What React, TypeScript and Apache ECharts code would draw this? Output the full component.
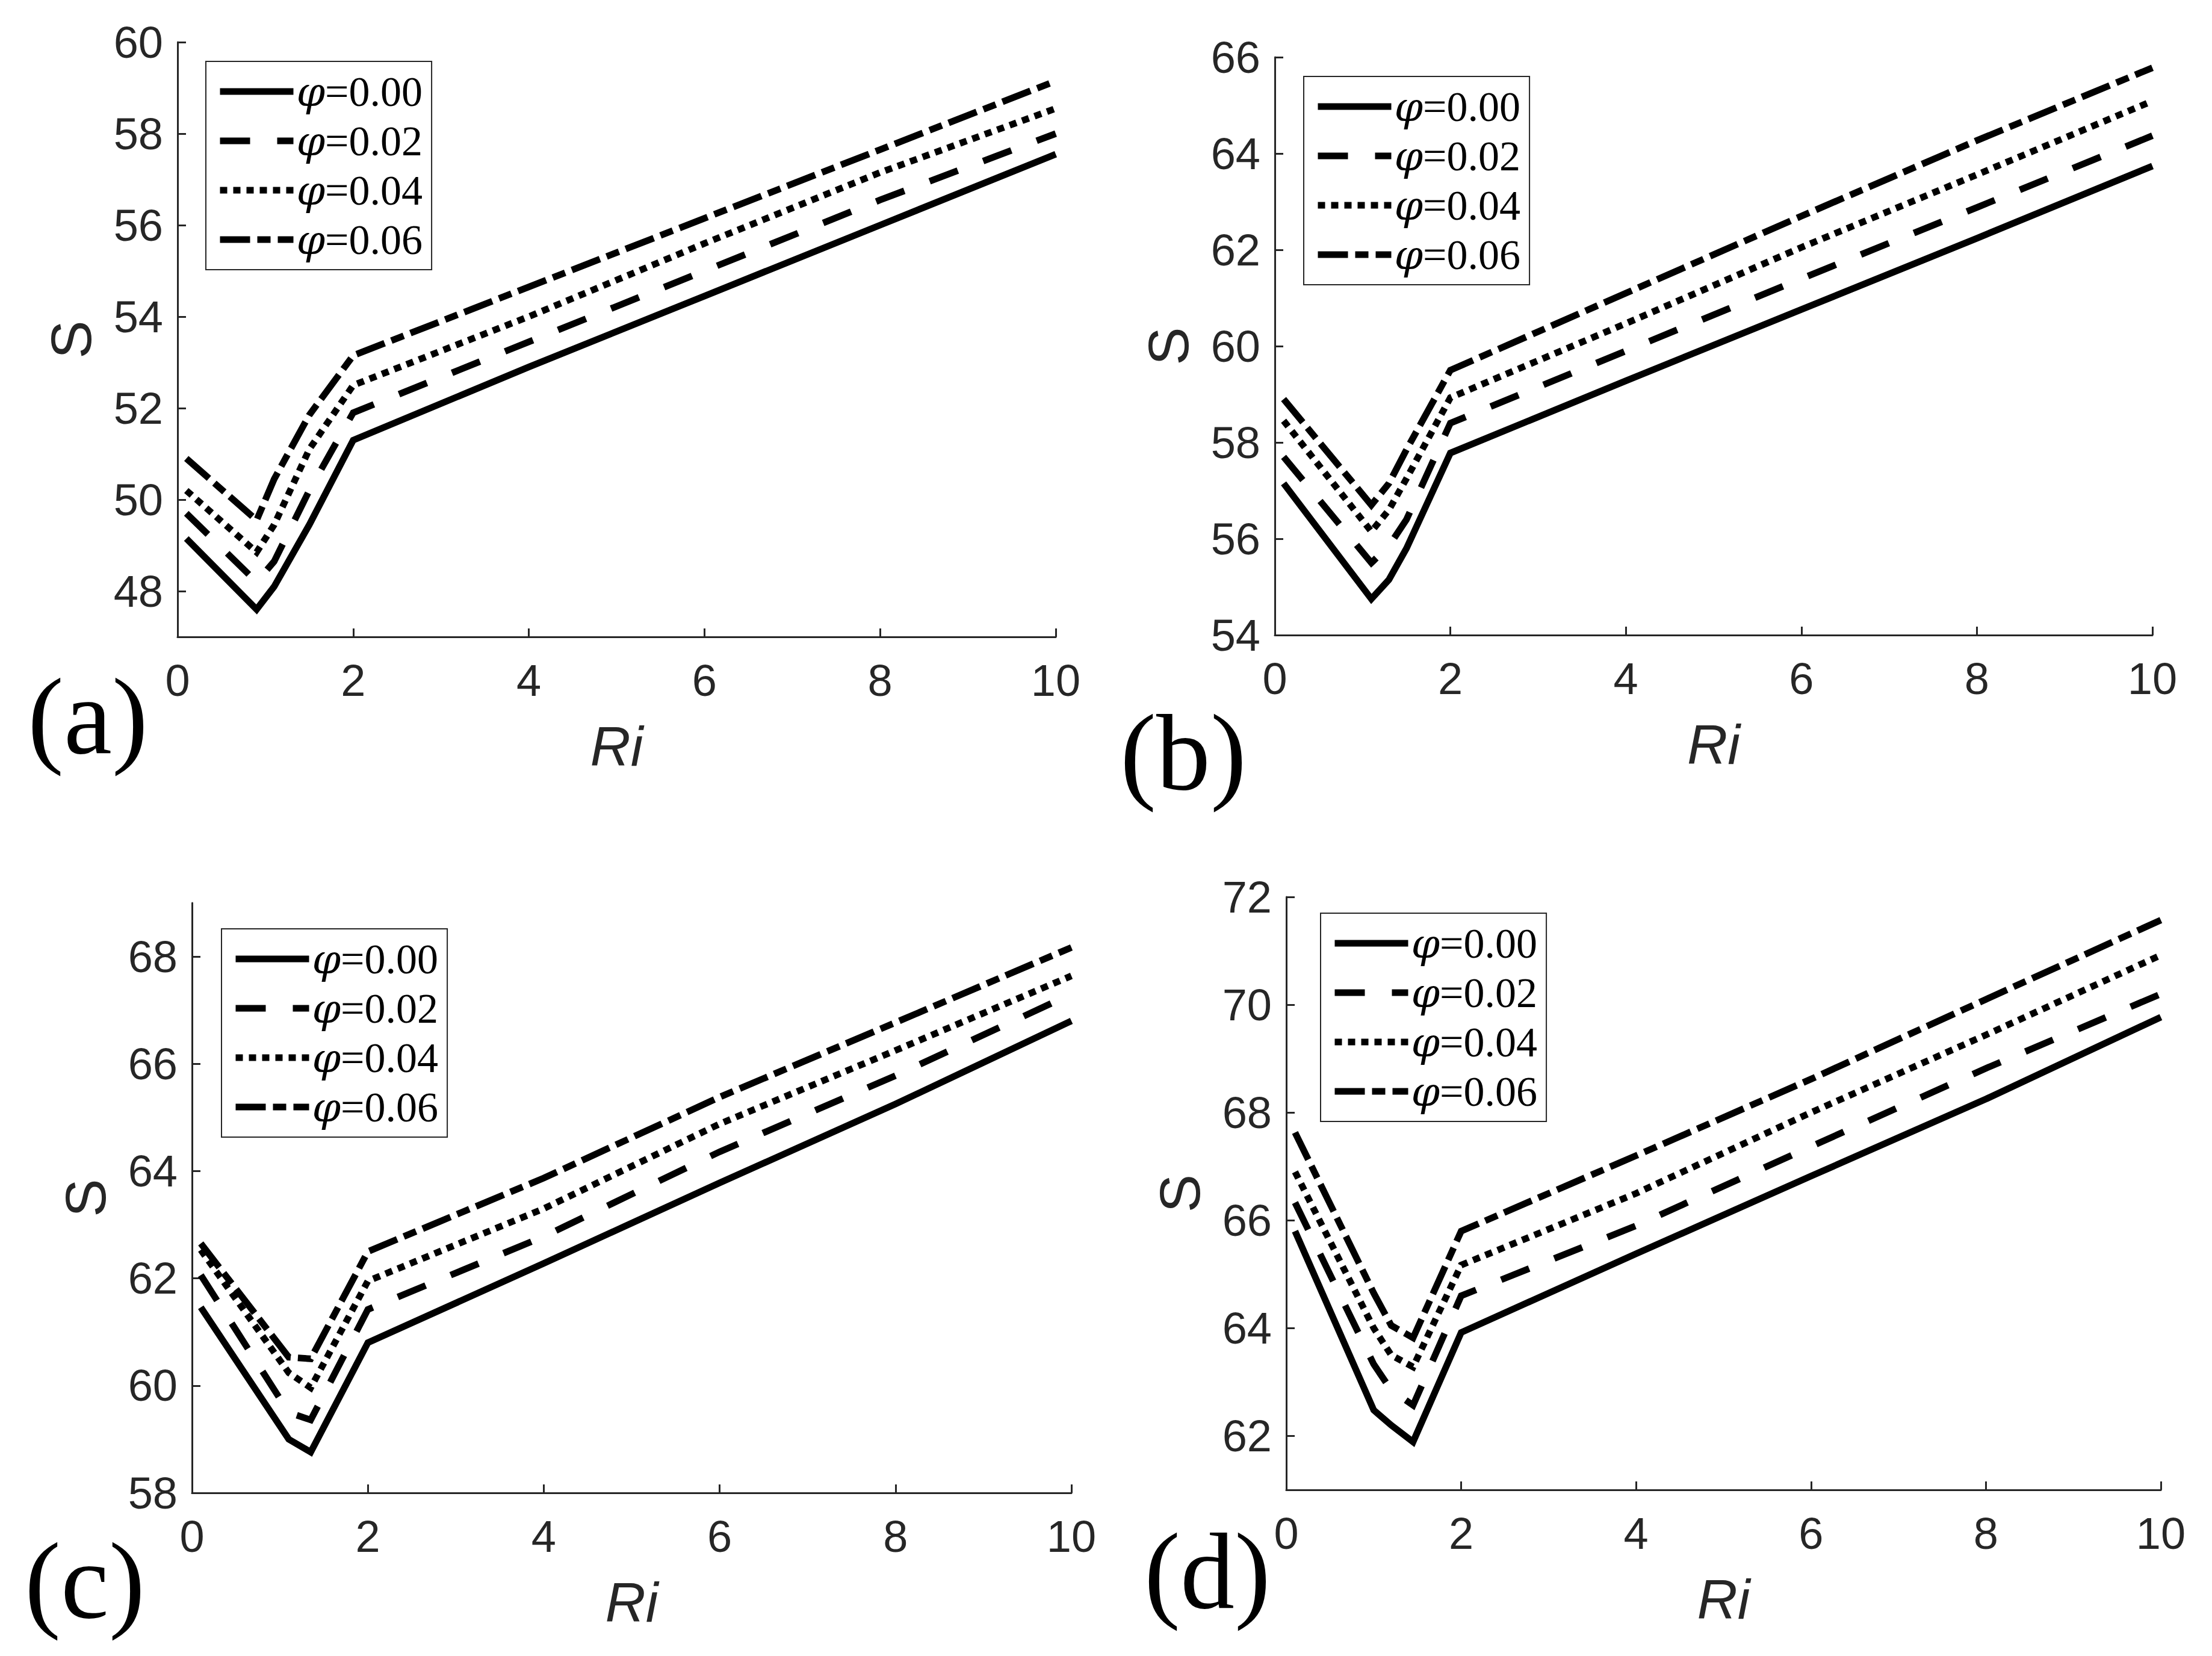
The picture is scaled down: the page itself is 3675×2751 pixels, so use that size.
import React, { useEffect, useRef } from "react";
import * as echarts from "echarts";

// ---------- data ----------
const X_TICKS = [0, 2, 4, 6, 8, 10];
const LEGEND_NAMES = ["φ=0.00", "φ=0.02", "φ=0.04", "φ=0.06"];
const PANEL_LABELS = ["(a)", "(b)", "(c)", "(d)"];

// panel (a)
const RI_A = [0.1, 0.9, 1.1, 1.5, 2, 4, 6, 8, 10];
const S_A_000 = [49.15, 47.6, 48.1, 49.45, 51.3, 52.9, 54.45, 56.0, 57.55];
const S_A_002 = [49.7, 48.2, 48.65, 50.2, 51.9, 53.45, 55.0, 56.55, 58.0];
const S_A_004 = [50.2, 48.85, 49.45, 51.1, 52.5, 54.0, 55.6, 57.15, 58.55];
const S_A_006 = [50.9, 49.55, 50.45, 51.85, 53.15, 54.65, 56.15, 57.65, 59.15];
const Y_TICKS_A = [48, 50, 52, 54, 56, 58, 60];

// panel (b)
const RI_B = [0.1, 1.1, 1.3, 1.5, 2, 4, 6, 8, 10];
const S_B_000 = [57.15, 54.75, 55.15, 55.8, 57.78, 59.28, 60.76, 62.24, 63.74];
const S_B_002 = [57.7, 55.5, 55.85, 56.4, 58.4, 59.9, 61.4, 62.88, 64.37];
const S_B_004 = [58.45, 56.15, 56.6, 57.25, 58.93, 60.47, 62.05, 63.56, 65.09];
const S_B_006 = [58.9, 56.7, 57.15, 57.85, 59.5, 61.1, 62.7, 64.27, 65.78];
const Y_TICKS_B = [54, 56, 58, 60, 62, 64, 66];

// panel (c)
const RI_C = [0.1, 1.1, 1.35, 2, 4, 6, 8, 10];
const S_C_000 = [61.46, 59.0, 58.76, 60.8, 62.28, 63.78, 65.25, 66.8];
const S_C_002 = [62.06, 59.5, 59.36, 61.42, 62.78, 64.36, 65.78, 67.3];
const S_C_004 = [62.53, 60.24, 59.96, 61.95, 63.3, 64.88, 66.25, 67.64];
const S_C_006 = [62.65, 60.53, 60.5, 62.5, 63.87, 65.38, 66.77, 68.17];
const Y_TICKS_C = [58, 60, 62, 64, 66, 68];

// panel (d)
const RI_D = [0.1, 1.0, 1.2, 1.45, 2, 4, 6, 8, 10];
const S_D_000 = [65.8, 62.48, 62.2, 61.89, 63.92, 65.38, 66.82, 68.25, 69.77];
const S_D_002 = [66.33, 63.33, 62.85, 62.57, 64.6, 65.9, 67.37, 68.82, 70.2];
const S_D_004 = [66.9, 64.0, 63.5, 63.28, 65.17, 66.5, 68.0, 69.44, 70.92];
const S_D_006 = [67.63, 64.65, 64.05, 63.82, 65.8, 67.2, 68.62, 70.1, 71.57];
const Y_TICKS_D = [62, 64, 66, 68, 70, 72];

// ---------- layout / style ----------
const SANS = "'Liberation Sans', Arial, Helvetica, sans-serif";
const SERIF = "'Liberation Serif', 'Times New Roman', serif";
const AX = "#262626";
const LINE_TYPES: any[] = ["solid", [50, 45], [12, 10], [50, 12, 22, 12]];

const PANELS = [
  {
    ri: RI_A, vals: [S_A_000, S_A_002, S_A_004, S_A_006], yMin: 47, yMax: 60, yTicks: Y_TICKS_A,
    grid: { left: 295, top: 70, width: 1459, height: 988 },
    legend: { left: 342, top: 102 }, label: { x: 146, y: 1190 },
  },
  {
    ri: RI_B, vals: [S_B_000, S_B_002, S_B_004, S_B_006], yMin: 54, yMax: 66, yTicks: Y_TICKS_B,
    grid: { left: 2118, top: 95, width: 1458, height: 960 },
    legend: { left: 2166, top: 127 }, label: { x: 1966, y: 1250 },
  },
  {
    ri: RI_C, vals: [S_C_000, S_C_002, S_C_004, S_C_006], yMin: 58, yMax: 69, yTicks: Y_TICKS_C,
    grid: { left: 319, top: 1500, width: 1461, height: 980 },
    legend: { left: 368, top: 1543 }, label: { x: 141, y: 2626 },
  },
  {
    ri: RI_D, vals: [S_D_000, S_D_002, S_D_004, S_D_006], yMin: 61, yMax: 72, yTicks: Y_TICKS_D,
    grid: { left: 2137, top: 1490, width: 1453, height: 985 },
    legend: { left: 2194, top: 1517 }, label: { x: 2006, y: 2610 },
  },
];

function buildOption() {
  const grid: any[] = [];
  const xAxis: any[] = [];
  const yAxis: any[] = [];
  const series: any[] = [];
  const legend: any[] = [];
  const graphic: any[] = [];

  PANELS.forEach((p, i) => {
    grid.push({ ...p.grid, containLabel: false });
    xAxis.push({
      type: "value",
      gridIndex: i,
      min: 0,
      max: 10,
      interval: 2,
      name: "Ri",
      nameLocation: "middle",
      nameGap: 135,
      nameTextStyle: { fontSize: 93, fontStyle: "italic", fontFamily: SANS, color: AX },
      axisLine: { show: true, onZero: false, lineStyle: { color: AX, width: 3 } },
      axisTick: { show: true, inside: true, length: 14, lineStyle: { color: AX, width: 3 } },
      axisLabel: { fontSize: 74, fontFamily: SANS, color: AX, margin: 35 },
      splitLine: { show: false },
    });
    yAxis.push({
      type: "value",
      gridIndex: i,
      min: p.yMin,
      max: p.yMax,
      name: "S",
      nameLocation: "middle",
      nameGap: 130,
      nameTextStyle: { fontSize: 95, fontFamily: SANS, color: AX },
      axisLine: { show: true, onZero: false, lineStyle: { color: AX, width: 3 } },
      axisTick: { show: true, inside: true, length: 14, customValues: p.yTicks, lineStyle: { color: AX, width: 3 } },
      axisLabel: { fontSize: 74, fontFamily: SANS, color: AX, margin: 24, customValues: p.yTicks },
      splitLine: { show: false },
    });
    p.vals.forEach((v, k) => {
      series.push({
        type: "line",
        name: LEGEND_NAMES[k],
        xAxisIndex: i,
        yAxisIndex: i,
        data: p.ri.map((x, j) => [x, v[j]]),
        symbol: "none",
        showSymbol: false,
        lineStyle: { color: "#000", width: 11, type: LINE_TYPES[k], cap: "butt", join: "miter" },
        itemStyle: { color: "#000" },
        emphasis: { disabled: true },
        z: 5,
      });
    });
    legend.push({
      left: p.legend.left,
      top: p.legend.top,
      orient: "vertical",
      data: LEGEND_NAMES,
      selectedMode: false,
      itemWidth: 122,
      itemHeight: 70,
      itemGap: 12,
      padding: [15, 15, 15, 18],
      borderColor: AX,
      borderWidth: 2,
      borderRadius: 0,
      backgroundColor: "#fff",
      lineStyle: { width: 11, color: "#000" },
      itemStyle: { opacity: 0, color: "rgba(0,0,0,0)", borderWidth: 0 },
      formatter: (name: string) => `{p|φ}{n|${name.slice(1)}}`,
      textStyle: {
        fontSize: 70,
        lineHeight: 70,
        fontFamily: SERIF,
        color: "#000",
        rich: {
          p: { fontSize: 68, fontStyle: "italic", fontFamily: "'DejaVu Serif', " + SERIF, color: "#000", lineHeight: 70 },
          n: { fontSize: 70, fontFamily: SERIF, color: "#000", lineHeight: 70 },
        },
      },
    });
    graphic.push({
      type: "text",
      x: p.label.x,
      y: p.label.y,
      style: {
        text: PANEL_LABELS[i],
        fontSize: 180,
        fontFamily: SERIF,
        fill: "#000",
        align: "center",
        verticalAlign: "middle",
        textAlign: "center",
        textVerticalAlign: "middle",
      },
    });
  });

  return {
    animation: false,
    backgroundColor: "#fff",
    grid,
    xAxis,
    yAxis,
    series,
    legend,
    graphic,
  };
}

export default function App() {
  const ref = useRef<HTMLDivElement>(null);
  useEffect(() => {
    if (!ref.current) return;
    const chart = echarts.init(ref.current, null, { renderer: "svg" });
    chart.setOption(buildOption() as any);
    return () => chart.dispose();
  }, []);
  return (
    <div
      ref={ref}
      style={{ position: "absolute", left: 0, top: 0, width: 3675, height: 2751, background: "#fff" }}
    />
  );
}
